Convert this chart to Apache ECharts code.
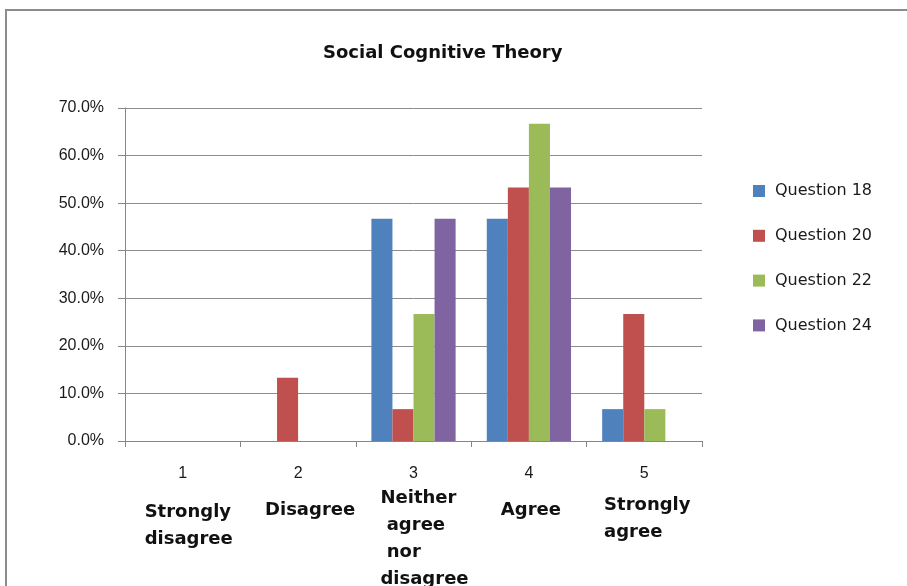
<!DOCTYPE html>
<html>
<head>
<meta charset="utf-8">
<title>Social Cognitive Theory</title>
<script src="https://cdn.jsdelivr.net/npm/echarts@6/dist/echarts.min.js"></script>
<style>
  html, body { margin: 0; padding: 0; background: #ffffff; }
  #chart { width: 907px; height: 586px; }
</style>
</head>
<body>
<div id="chart"></div>
<script>
// Likert scale points and their wording
const categories = ['1', '2', '3', '4', '5'];
const categoryWords = [
  ['Strongly', 'disagree'],
  ['Disagree'],
  ['Neither', ' agree', ' nor', 'disagree'],
  ['Agree'],
  ['Strongly', 'agree']
];

// Share of respondents per answer (%)
const question18 = [0, 0, 46.7, 46.7, 6.7];
const question20 = [0, 13.3, 6.7, 53.3, 26.7];
const question22 = [0, 0, 26.7, 66.7, 6.7];
const question24 = [0, 0, 46.7, 53.3, 0];

const seriesNames = ['Question 18', 'Question 20', 'Question 22', 'Question 24'];
const seriesColors = ['#4F81BD', '#C0504D', '#9BBB59', '#8064A2'];

// y axis ticks
const yMin = 0, yMax = 70, yStep = 10;

// label layout: extra space above the wording and left indent per category
const wordSpacer = [16, 14, 2, 14, 9];
const wordIndent = [12, 24, 22, 4, 6];

const rich = {
  n: { fontFamily: 'Liberation Sans', fontSize: 16, lineHeight: 18, color: '#1a1a1a', align: 'center' }
};
categories.forEach((c, i) => {
  rich['s' + i] = { fontSize: 1, lineHeight: wordSpacer[i] };
  rich['b' + i] = {
    fontFamily: 'DejaVu Sans', fontWeight: 'bold', fontSize: 18, lineHeight: 27,
    color: '#111111', align: 'left', padding: [0, 0, 0, wordIndent[i]]
  };
});

const chart = echarts.init(document.getElementById('chart'), null, { renderer: 'canvas' });

chart.setOption({
  backgroundColor: '#ffffff',
  animation: false,
  title: {
    text: 'Social Cognitive Theory',
    left: 323,
    top: 44,
    padding: 0,
    textStyle: { fontFamily: 'DejaVu Sans', fontWeight: 'bold', fontSize: 18, color: '#111111' }
  },
  legend: {
    orient: 'vertical',
    left: 753,
    top: 181,
    padding: 0,
    itemWidth: 12,
    itemHeight: 12,
    itemGap: 24.8,
    icon: 'rect',
    data: seriesNames,
    textStyle: { fontFamily: 'DejaVu Sans', fontSize: 16, lineHeight: 20, color: '#1a1a1a', padding: [0, 0, 0, 5] }
  },
  grid: { left: 125, right: 205, top: 108, bottom: 145, containLabel: false, outerBoundsMode: 'none' },
  xAxis: {
    type: 'category',
    data: categories,
    axisLine: { lineStyle: { color: '#868686', width: 1 } },
    axisTick: { show: true, length: 6, alignWithLabel: false, lineStyle: { color: '#868686' } },
    axisLabel: {
      interval: 0,
      margin: 24,
      formatter: function (value, idx) {
        const words = categoryWords[idx].map(w => '{b' + idx + '|' + w + '}').join('\n');
        return '{n|' + value + '}\n{s' + idx + '| }\n' + words;
      },
      rich: rich
    },
    splitLine: { show: false }
  },
  yAxis: {
    type: 'value',
    min: yMin,
    max: yMax,
    interval: yStep,
    axisLine: { show: true, lineStyle: { color: '#868686', width: 1 } },
    axisTick: { show: true, length: 7, inside: false, lineStyle: { color: '#868686' } },
    axisLabel: {
      margin: 21,
      formatter: v => v.toFixed(1) + '%',
      fontFamily: 'Liberation Sans',
      fontSize: 16,
      color: '#1a1a1a'
    },
    splitLine: { show: true, lineStyle: { color: '#8c8c8c', width: 1 } }
  },
  graphic: [{
    type: 'rect',
    z: -10,
    silent: true,
    shape: { x: 6, y: 10, width: 1400, height: 1400 },
    style: { fill: 'none', stroke: '#8c8c8c', lineWidth: 2 }
  }],
  series: [question18, question20, question22, question24].map((values, i) => ({
    name: seriesNames[i],
    type: 'bar',
    data: values,
    barGap: '0%',
    barCategoryGap: '27%',
    itemStyle: { color: seriesColors[i] }
  }))
});
</script>
</body>
</html>
